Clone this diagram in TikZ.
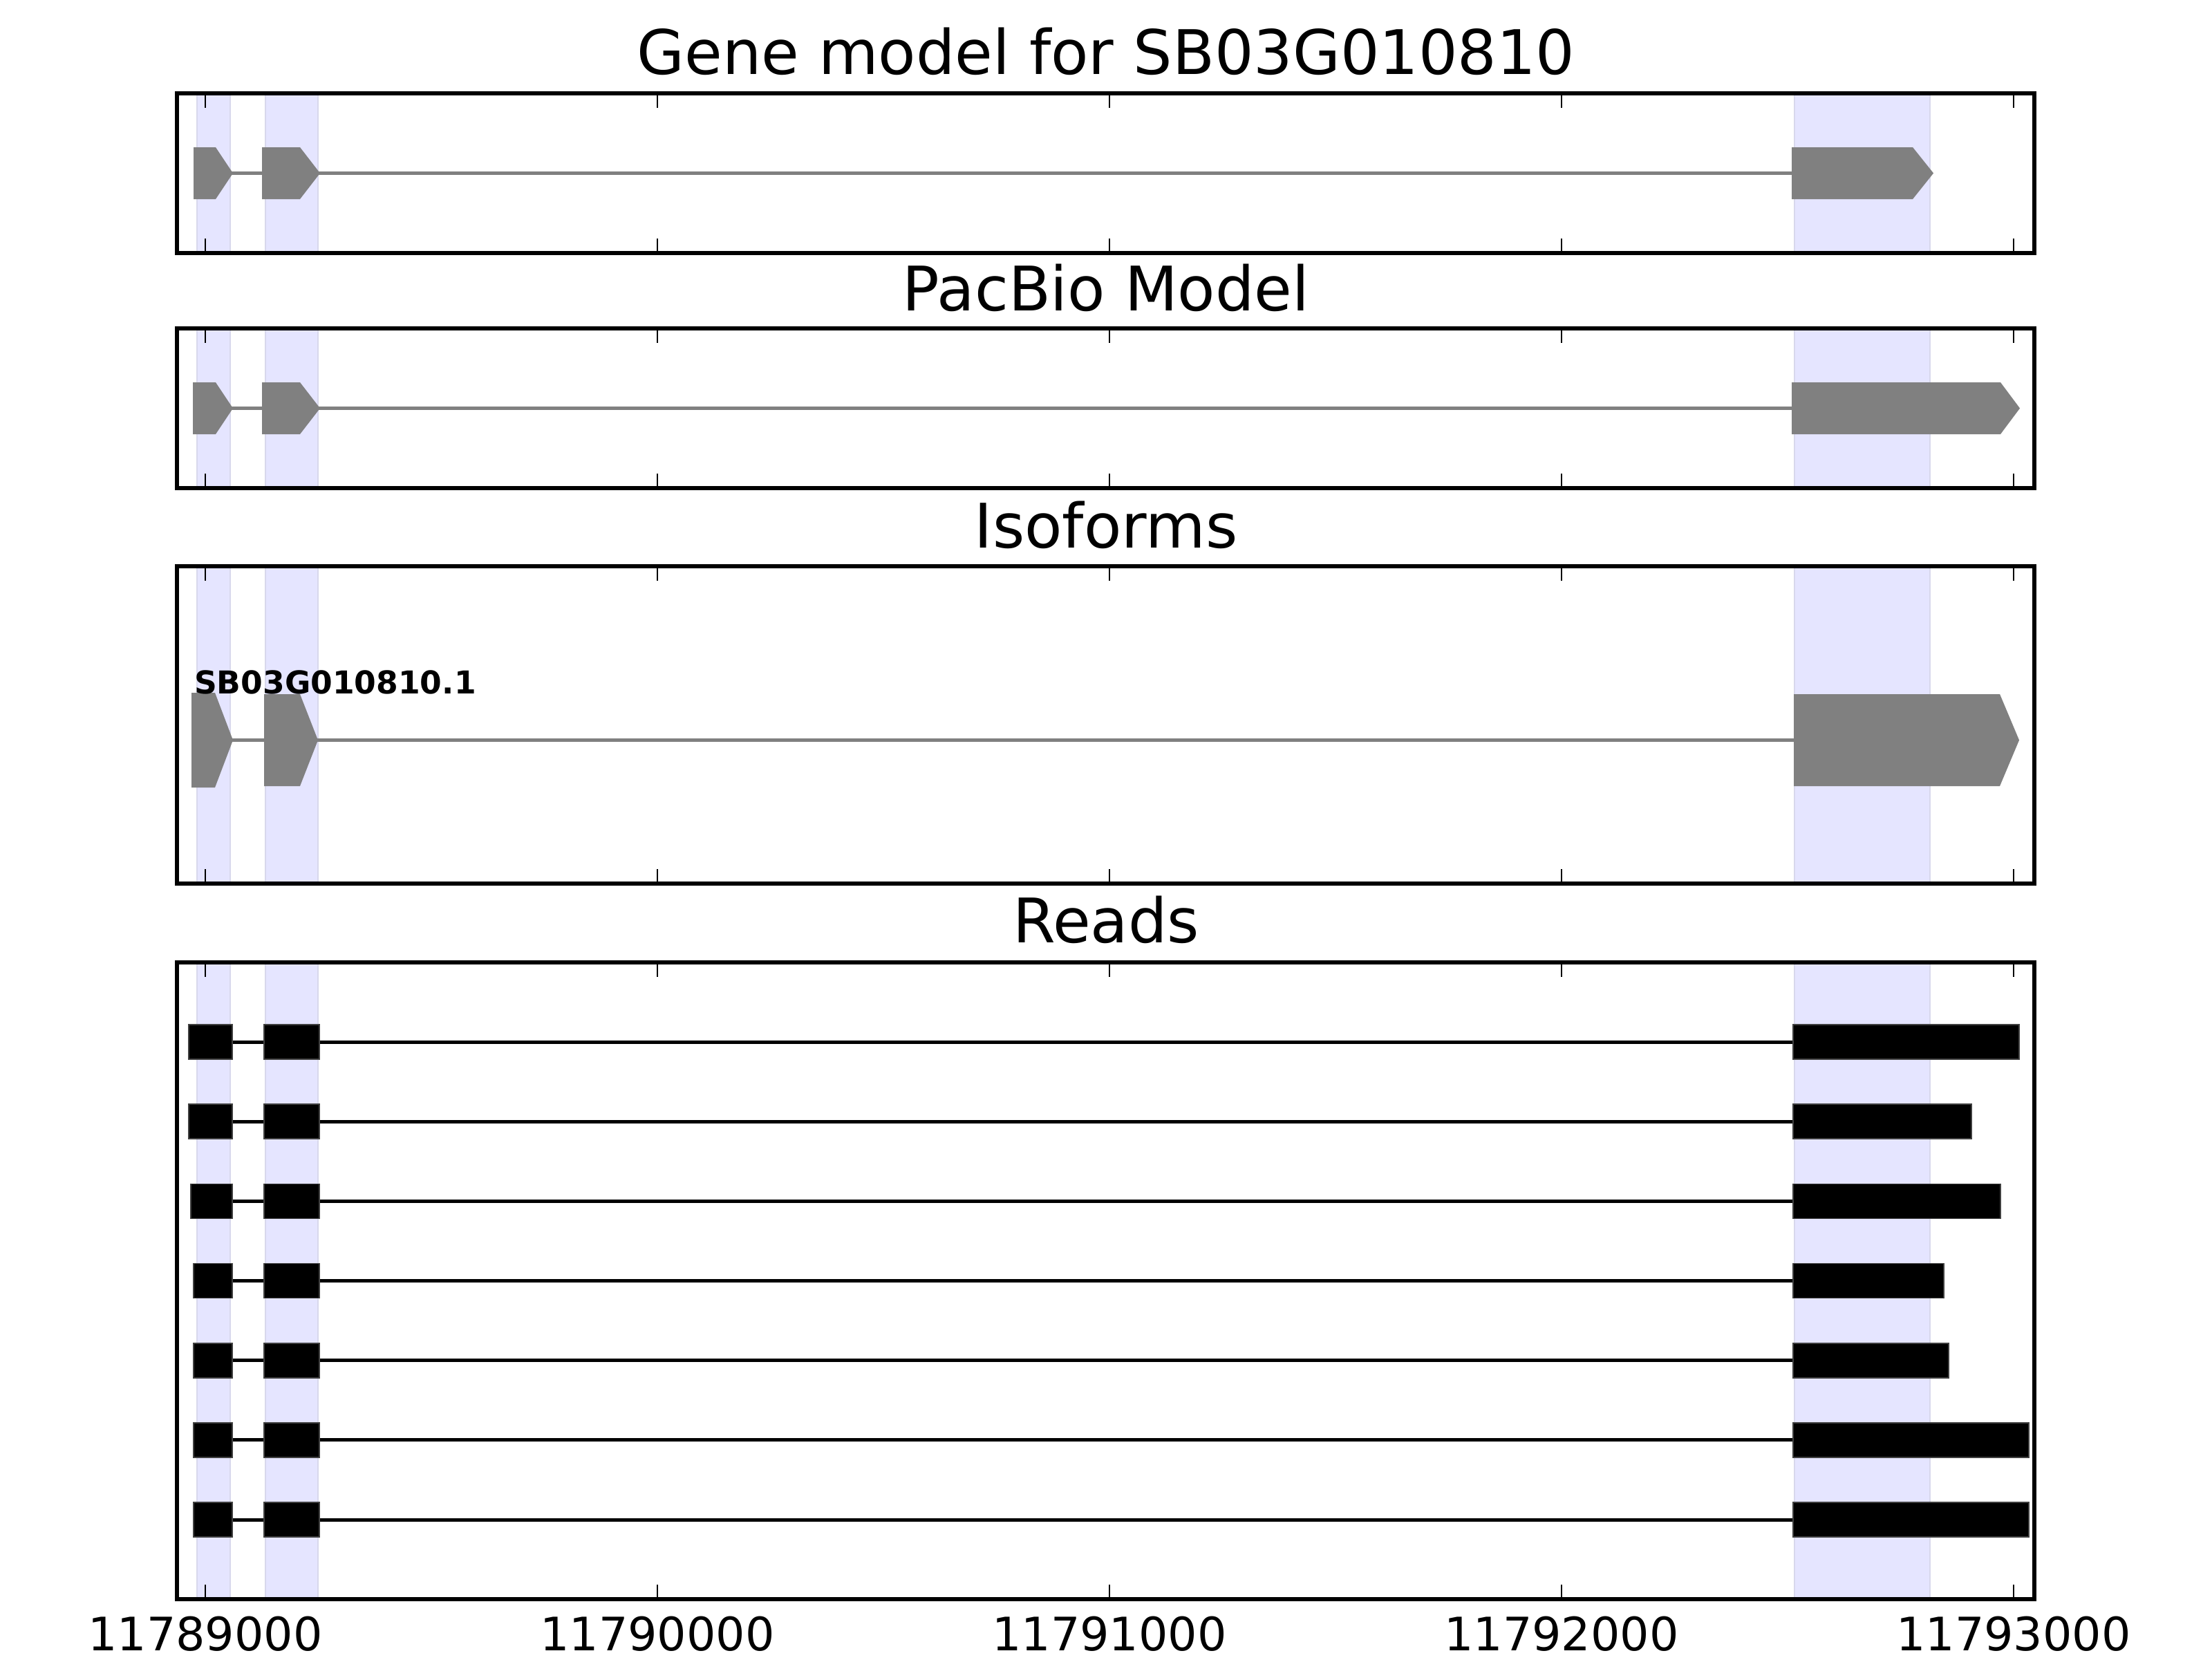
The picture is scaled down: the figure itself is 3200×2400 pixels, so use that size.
\documentclass[tikz,border=0pt]{standalone}
\usepackage{fontspec}
\setmainfont{DejaVu Sans}
\definecolor{band}{RGB}{229,229,255}
\definecolor{bandedge}{RGB}{216,216,236}
\definecolor{exongray}{RGB}{128,128,128}
\newcommand\exonarrow[5]{% left, flat end, tip, top, bottom
  \fill[exonshape] (#1,#4) -- (#2,#4) -- (#3,{(#4+#5)/2}) -- (#2,#5) -- (#1,#5) -- cycle;}
\begin{document}
\begin{tikzpicture}[x=0.18pt,y=-0.18pt,
  bandbox/.style={fill=band,draw=bandedge,line width=0.5pt},
  frame/.style={draw=black,line width=1pt},
  tickmark/.style={draw=black,line width=0.5pt},
  intron/.style={draw=exongray,line width=0.9pt},
  exonshape/.style={fill=exongray},
  readexon/.style={fill=black,draw=black!75,line width=0.3pt},
  readline/.style={draw=black,line width=0.9pt},
  paneltitle/.style={anchor=base,font=\fontsize{16}{19}\selectfont,inner sep=0pt},
  ticklabel/.style={anchor=base,font=\fontsize{12}{14}\selectfont,inner sep=0pt},
  isolabel/.style={anchor=base west,font=\fontsize{8.2}{10}\selectfont\bfseries,inner sep=0pt}]
\useasboundingbox (0,0) rectangle (3200,2400);
\fill[white] (0,0) rectangle (3200,2400);

% highlighted exon bands
\foreach \t/\b in {135/366,475/706,819/1278,1392/2313}{
  \foreach \l/\r in {285/333,384/460,2596/2792}{
    \draw[bandbox] (\l,\t) rectangle (\r,\b);
  }
}

% Gene model
\draw[intron] (330,250) -- (2600,250);
\exonarrow{280}{312}{337}{213}{288}
\exonarrow{379}{434}{463}{213}{288}
\exonarrow{2592}{2767}{2797}{213}{288}

% PacBio model
\draw[intron] (330,590) -- (2600,590);
\exonarrow{279}{312}{337}{553}{628}
\exonarrow{379}{434}{463}{553}{628}
\exonarrow{2592}{2894}{2922}{553}{628}

% Isoforms
\draw[intron] (330,1070) -- (2600,1070);
\exonarrow{277}{311}{337}{1002}{1139}
\exonarrow{382}{434}{460}{1004}{1137}
\exonarrow{2595}{2893}{2921}{1004}{1137}
\node[isolabel] (iso) at (280,1003) {SB03G010810.1};

% Reads
\foreach \k/\l/\r in {0/273/2921,1/273/2852,2/276/2894,3/280/2812,4/280/2819,5/280/2935,6/280/2935}{
  \pgfmathsetmacro\yy{1507+115.17*\k}
  \draw[readline] (\l,\yy) -- (\r,\yy);
  \draw[readexon] (\l,\yy-25) rectangle (336,\yy+25);
  \draw[readexon] (382,\yy-25) rectangle (462,\yy+25);
  \draw[readexon] (2594,\yy-25) rectangle (\r,\yy+25);
}

% frames and ticks
\foreach \t/\b in {135/366,475/706,819/1278,1392/2313}{
  \foreach \x in {297,951,1605,2259,2913}{
    \draw[tickmark] (\x,\t) -- (\x,\t+21);
    \draw[tickmark] (\x,\b-21) -- (\x,\b);
  }
  \draw[frame] (256,\t) rectangle (2943,\b);
}

% titles
\node[paneltitle] (t1) at (1600,107) {Gene model for SB03G010810};
\node[paneltitle] (t2) at (1600,449) {PacBio Model};
\node[paneltitle] (t3) at (1600,792) {Isoforms};
\node[paneltitle] (t4) at (1600,1363) {Reads};

% tick labels
\node[ticklabel] (x0) at (297,2387) {11789000};
\node[ticklabel] (x1) at (951,2387) {11790000};
\node[ticklabel] (x2) at (1605,2387) {11791000};
\node[ticklabel] (x3) at (2259,2387) {11792000};
\node[ticklabel] (x4) at (2913,2387) {11793000};
\end{tikzpicture}
\end{document}
